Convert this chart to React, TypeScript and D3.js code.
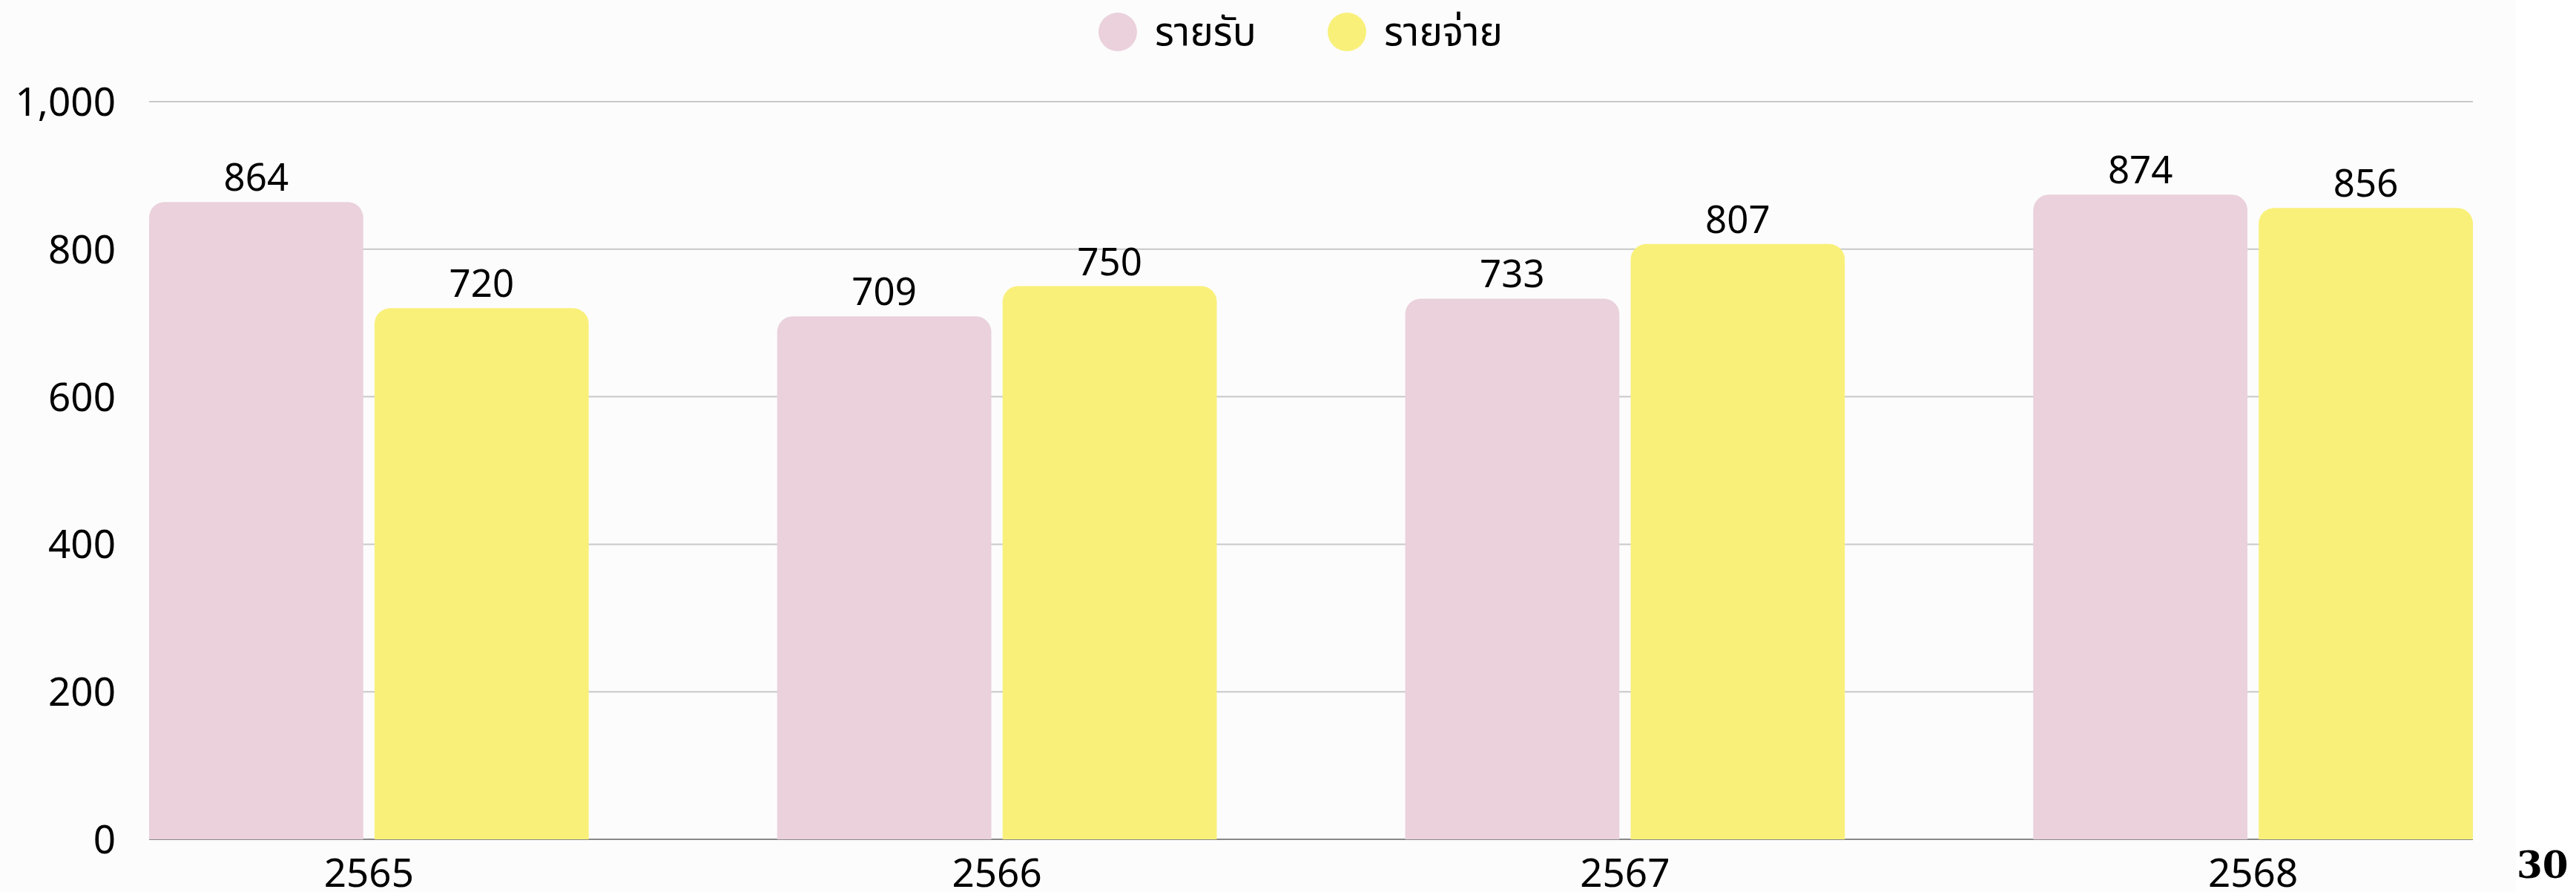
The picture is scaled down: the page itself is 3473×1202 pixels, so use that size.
import React from "react";
import * as d3 from "d3";

const years = ["2565", "2566", "2567", "2568"];
const seriesNames = ["รายรับ", "รายจ่าย"];
const income = [864, 709, 733, 874];
const expense = [720, 750, 807, 856];
const yTicks = [0, 200, 400, 600, 800, 1000];
const colors = ["#ead1dc", "#f9f07a"];
const pageNumber = "30";

const W = 3473;
const H = 1202;
const chartW = 3392;
const FONT = "'Noto Sans', 'Noto Sans Thai', 'Noto Sans Thai Looped', sans-serif";

function topRoundedRect(x: number, y: number, w: number, h: number, r: number) {
  const rr = Math.min(r, w / 2, h);
  const p = d3.path();
  p.moveTo(x, y + h);
  p.lineTo(x, y + rr);
  p.arcTo(x, y, x + rr, y, rr);
  p.lineTo(x + w - rr, y);
  p.arcTo(x + w, y, x + w, y + rr, rr);
  p.lineTo(x + w, y + h);
  p.closePath();
  return p.toString();
}

export default function App() {
  const left = 201;
  const right = 3334;
  const top = 137;
  const bottom = 1131;

  const x0 = d3.scaleBand<string>().domain(years).range([left, right]).paddingInner(0.3).paddingOuter(0);
  const x1 = d3.scaleBand<string>().domain(seriesNames).range([0, x0.bandwidth()]).paddingInner(0.05);
  const y = d3.scaleLinear().domain([0, 1000]).range([bottom, top]);
  const fmt = d3.format(",");

  const data = [income, expense];

  return (
    <svg width={W} height={H} style={{ position: "absolute", left: 0, top: 0, background: "#ffffff" }}>
      <rect x={0} y={0} width={chartW} height={H} fill="#fcfcfc" />
      {/* legend */}
      <g fontFamily={FONT} fontSize={53} fill="#000">
        <circle cx={1507} cy={43} r={26} fill={colors[0]} />
        <text x={1557} y={61}>{seriesNames[0]}</text>
        <circle cx={1816} cy={43} r={26} fill={colors[1]} />
        <text x={1866} y={61}>{seriesNames[1]}</text>
      </g>
      {/* gridlines */}
      {yTicks.filter((t) => t > 0).map((t) => (
        <line key={t} x1={left} x2={right} y1={y(t)} y2={y(t)} stroke="#c8c8c8" strokeWidth={2} />
      ))}
      {/* y labels */}
      {yTicks.map((t) => (
        <text key={"yl" + t} x={156} y={y(t)} dy="0.36em" textAnchor="end" fontFamily={FONT} fontSize={53} fill="#000">
          {fmt(t)}
        </text>
      ))}
      {/* axis line */}
      <line x1={left} x2={right} y1={bottom} y2={bottom} stroke="#888" strokeWidth={2} />
      {/* bars */}
      {years.map((yr, i) => (
        <g key={yr} transform={`translate(${x0(yr)},0)`}>
          {seriesNames.map((s, j) => {
            const v = data[j][i];
            const bx = x1(s)!;
            const bw = x1.bandwidth();
            return (
              <g key={s}>
                <path d={topRoundedRect(bx, y(v), bw, bottom - y(v), 21)} fill={colors[j]} />
                <text x={bx + bw / 2} y={y(v) - 15} textAnchor="middle" fontFamily={FONT} fontSize={51} fill="#000">
                  {v}
                </text>
              </g>
            );
          })}
          <text x={x0.bandwidth() / 2} y={1195} textAnchor="middle" fontFamily={FONT} fontSize={53} fill="#000">
            {yr}
          </text>
        </g>
      ))}
      <text x={3393} y={1183} fontFamily="'DejaVu Serif', serif" fontWeight="bold" fontSize={50} fill="#000">
        {pageNumber}
      </text>
    </svg>
  );
}
